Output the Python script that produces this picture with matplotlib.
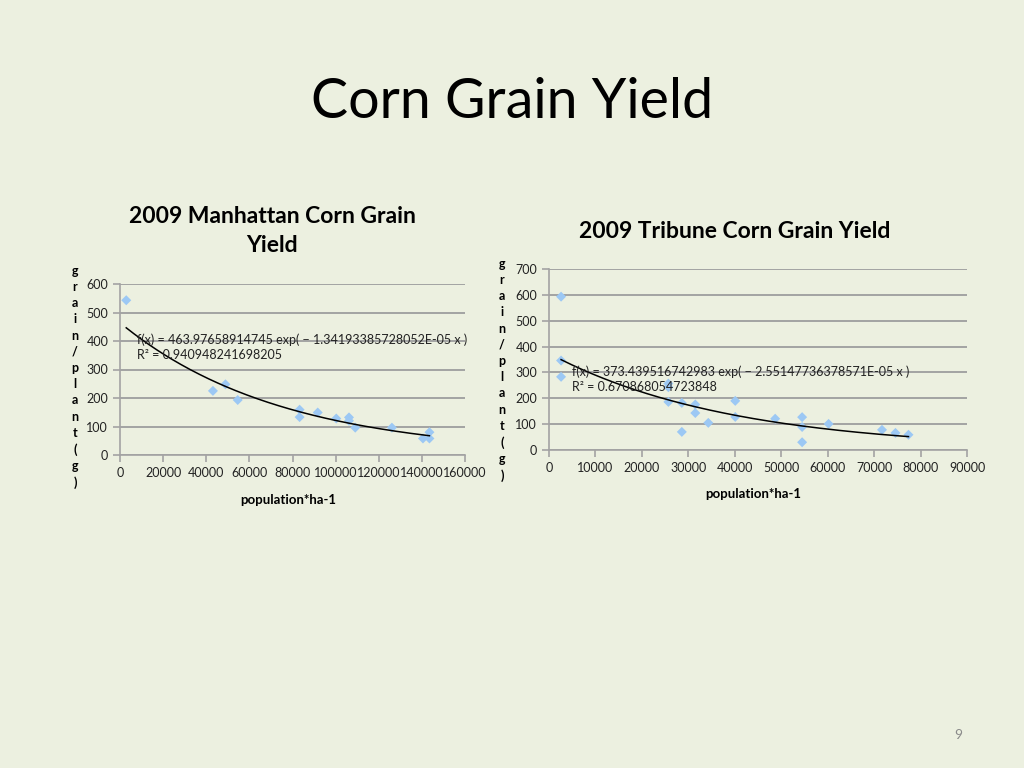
import numpy as np
import matplotlib
matplotlib.use("Agg")
import matplotlib.pyplot as plt

plt.rcParams["font.family"] = ["Lato", "DejaVu Sans"]

BG = "#ECF0E0"
MARKER = "#9CC8F4"
GRID = "#A3A3A3"

# Manhattan
man_pop = [2900, 43100, 48900, 54600, 83300, 83300, 91700, 100300, 106200, 106200,
           109100, 126100, 140500, 143500, 143500]
man_yield = [543, 225, 248, 193, 159, 133, 149, 128, 132, 120, 96, 96, 58, 80, 58]
man_a, man_b = 463.97658914745, -1.34193385728052e-05
man_r2 = 0.940948241698205

# Tribune
tri_pop = [2600, 2600, 2600, 25700, 25700, 25700, 28600, 28600, 31500, 31500, 34300,
           40100, 40100, 48700, 54500, 54500, 54500, 60200, 71700, 74600, 77400]
tri_yield = [593, 346, 283, 257, 243, 186, 182, 70, 176, 143, 105, 190, 128, 121,
             127, 89, 30, 101, 78, 66, 59]
tri_a, tri_b = 373.439516742983, -2.55147736378571e-05
tri_r2 = 0.670868054723848

W, H = 1024, 768
fig = plt.figure(figsize=(W / 100, H / 100), dpi=100, facecolor=BG)


def px_axes(x0, y0, x1, y1):
    return fig.add_axes([x0 / W, 1 - y1 / H, (x1 - x0) / W, (y1 - y0) / H])


def draw(ax, pop, yld, a, b, r2, xmax, xstep, ymax, eq_pos):
    ax.set_facecolor(BG)
    ax.scatter(pop, yld, marker="D", s=26, color=MARKER, edgecolors="none", zorder=3)
    xs = np.linspace(min(pop), max(pop), 200)
    ax.plot(xs, a * np.exp(b * xs), color="black", lw=1.1, zorder=4)
    ax.set_xlim(0, xmax)
    ax.set_ylim(0, ymax)
    ax.set_xticks(np.arange(0, xmax + 1, xstep))
    ax.set_yticks(np.arange(0, ymax + 1, 100))
    ax.yaxis.grid(True, color=GRID, lw=1.4)
    ax.set_axisbelow(True)
    for s in ["top", "right"]:
        ax.spines[s].set_visible(False)
    for s in ["left", "bottom"]:
        ax.spines[s].set_color(GRID)
        ax.spines[s].set_linewidth(1.2)
    ax.tick_params(colors=GRID, labelcolor="#222222", labelsize=9, length=5, width=1.2)
    ax.text(eq_pos[0], eq_pos[1],
            "f(x) = %s exp( \u2212 %sE-05 x )\nR\u00b2 = %s" % (
                repr(a), repr(-b * 1e5), repr(r2)),
            fontsize=9, color="#222222", linespacing=1.35, zorder=5,
            transform=ax.transData, va="top")


ax1 = px_axes(120, 284, 465, 455)
draw(ax1, man_pop, man_yield, man_a, man_b, man_r2, 160000, 20000, 600, (7900, 428))
ax2 = px_axes(549, 269, 967, 450)
draw(ax2, tri_pop, tri_yield, tri_a, tri_b, tri_r2, 90000, 10000, 700, (4950, 327))

fig.text(512 / W, 1 - 102 / H, "Corn Grain Yield", fontsize=40, ha="center", va="center")
fig.text(272 / W, 1 - 231 / H, "2009 Manhattan Corn Grain\nYield", fontsize=16.5,
         fontweight="bold", ha="center", va="center", linespacing=1.45)
fig.text(735 / W, 1 - 232 / H, "2009 Tribune Corn Grain Yield", fontsize=16.5,
         fontweight="bold", ha="center", va="center")

ylab = "\n".join("grain/plant(g)")
fig.text(75 / W, 1 - 377 / H, ylab, fontsize=9, fontweight="bold", ha="center",
         va="center", linespacing=1.42)
fig.text(502 / W, 1 - 370 / H, ylab, fontsize=9, fontweight="bold", ha="center",
         va="center", linespacing=1.42)
fig.text(288 / W, 1 - 500 / H, "population*ha-1", fontsize=9.5, fontweight="bold",
         ha="center", va="center")
fig.text(753 / W, 1 - 494 / H, "population*ha-1", fontsize=9.5, fontweight="bold",
         ha="center", va="center")
fig.text(958 / W, 1 - 735 / H, "9", fontsize=10, color="#8A8A8A", ha="center", va="center")

fig.savefig("out.png", dpi=100, facecolor=BG)
